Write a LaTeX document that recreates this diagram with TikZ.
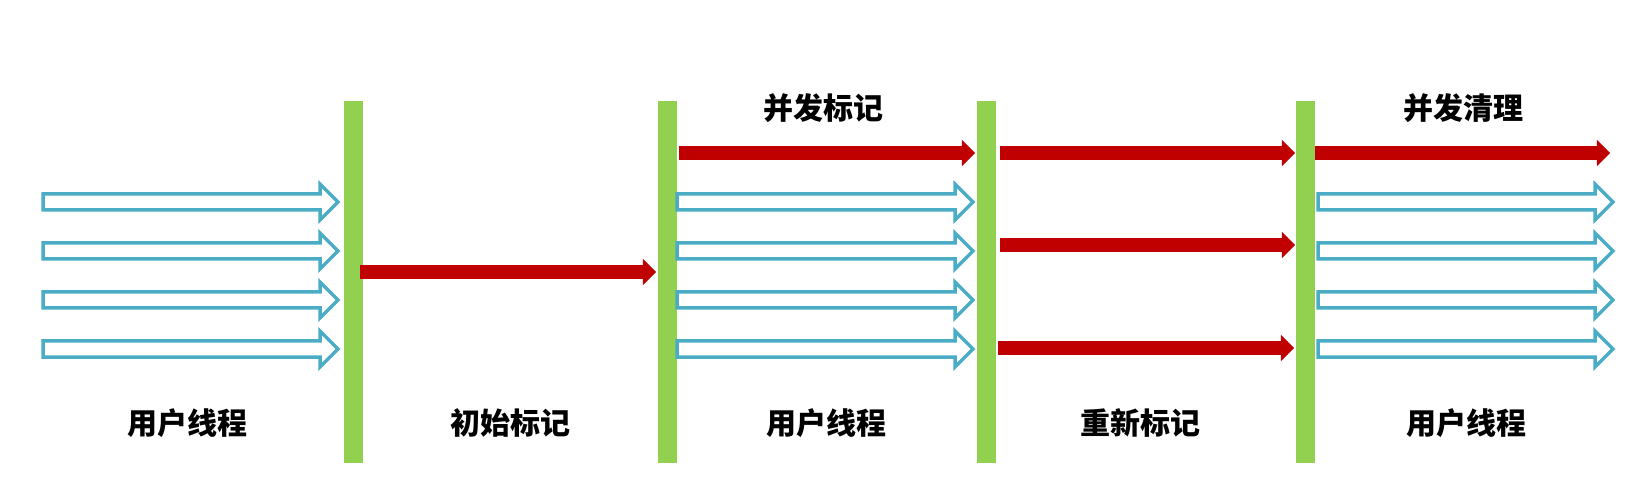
\documentclass[tikz,border=0pt]{standalone}
\usepackage{fontspec}
\newfontfamily\cjk{Noto Sans CJK SC}
\usepackage[svgnames]{xcolor}
\usepackage{tikz}
\usetikzlibrary{shapes.arrows}
\definecolor{bargreen}{HTML}{92D050}
\definecolor{markred}{HTML}{C00000}
\definecolor{userblue}{HTML}{4BACC6}

\begin{document}
\begin{tikzpicture}[x=1pt, y=-1pt,
barnode/.style = {rectangle, fill=bargreen, minimum width=19pt, minimum height=362pt, inner sep=0pt, outer sep=0pt},
redthread/.style = {single arrow, fill=markred, inner xsep=0pt, inner ysep=6.65pt, outer sep=0pt, single arrow head extend=6.35pt, anchor=tail},
bluethread/.style = {single arrow, draw=userblue, line width=3.5pt, fill=white, inner xsep=0pt, inner ysep=6.25pt, outer sep=0pt, single arrow head extend=10pt, anchor=tail},
phase/.style = {font=\cjk\bfseries\fontsize{30pt}{30pt}\selectfont, inner sep=0pt}]
\useasboundingbox (0,0) rectangle (1636,486);
% safepoint bars
\node[barnode] (b1) at (353.5,282) {};
\node[barnode] (b2) at (667.5,282) {};
\node[barnode] (b3) at (986.5,282) {};
\node[barnode] (b4) at (1305.5,282) {};
% user threads
\node[bluethread, minimum height=295pt] (u11) at (43,202) {};
\node[bluethread, minimum height=295pt] (u12) at (43,251) {};
\node[bluethread, minimum height=295pt] (u13) at (43,300) {};
\node[bluethread, minimum height=295pt] (u14) at (43,349) {};
\node[bluethread, minimum height=296pt] (u21) at (677,202) {};
\node[bluethread, minimum height=296pt] (u22) at (677,251) {};
\node[bluethread, minimum height=296pt] (u23) at (677,300) {};
\node[bluethread, minimum height=296pt] (u24) at (677,349) {};
\node[bluethread, minimum height=295pt] (u31) at (1318,202) {};
\node[bluethread, minimum height=295pt] (u32) at (1318,251) {};
\node[bluethread, minimum height=295pt] (u33) at (1318,300) {};
\node[bluethread, minimum height=295pt] (u34) at (1318,349) {};
% gc threads
\node[redthread, minimum height=296pt] (g1) at (360,272) {};
\node[redthread, minimum height=296pt] (g2) at (679,153) {};
\node[redthread, minimum height=295pt] (g3) at (1000,153) {};
\node[redthread, minimum height=295pt] (g4) at (1000,245) {};
\node[redthread, minimum height=296pt] (g5) at (998,348) {};
\node[redthread, minimum height=295pt] (g6) at (1315,153) {};
% labels
\node[phase] (l1) at (187,423) {用户线程};
\node[phase] (l2) at (510,423) {初始标记};
\node[phase] (l3) at (826,423) {用户线程};
\node[phase] (l4) at (1140,423) {重新标记};
\node[phase] (l5) at (1466,423) {用户线程};
\node[phase] (t1) at (823,108) {并发标记};
\node[phase] (t2) at (1463,108) {并发清理};
\end{tikzpicture}
\end{document}
